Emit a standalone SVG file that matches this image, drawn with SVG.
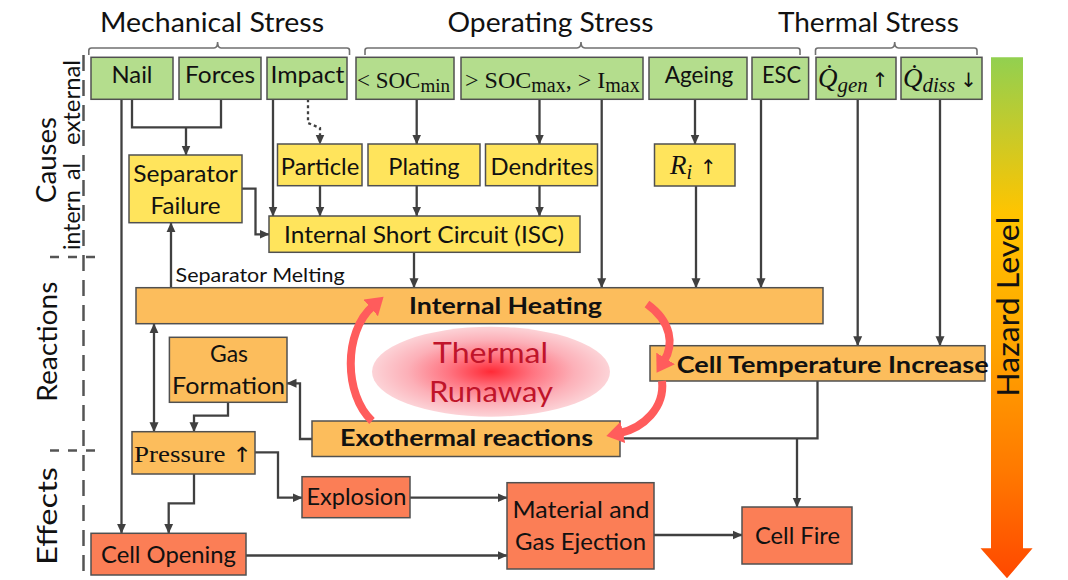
<svg xmlns="http://www.w3.org/2000/svg" width="1068" height="580" viewBox="0 0 1068 580">
<style>
.t{font-family:Lato,"Open Sans","Liberation Sans",sans-serif;font-size:23px;fill:#111;text-anchor:middle}
.b{font-weight:bold}
.s{font-family:"Liberation Serif","DejaVu Serif",serif;fill:#111}
.ar{font-family:"DejaVu Sans",sans-serif;fill:#111;font-style:normal}
.h{font-family:Lato,"Open Sans","Liberation Sans",sans-serif;font-size:27px;fill:#111;text-anchor:middle}
.g{fill:#B4DD8D;stroke:#505050;stroke-width:1.5}
.y{fill:#FFE45C;stroke:#505050;stroke-width:1.5}
.o{fill:#FCBD5C;stroke:#505050;stroke-width:1.5}
.r{fill:#FB7E56;stroke:#505050;stroke-width:1.5}
.c{fill:none;stroke:#404040;stroke-width:2.3}
.a{marker-end:url(#ah)}
.br{fill:none;stroke:#707070;stroke-width:1.6}
.dl{fill:none;stroke:#555;stroke-width:2.5}
.red{fill:none;stroke:#FF5C5C;stroke-width:8;marker-end:url(#rh)}
</style>
<defs>
<marker id="ah" viewBox="0 0 10 10" refX="9.5" refY="5" markerWidth="10" markerHeight="10" markerUnits="userSpaceOnUse" orient="auto-start-reverse"><path d="M0,0.5 L10,5 L0,9.5 z" fill="#404040"/></marker>
<marker id="rh" viewBox="0 0 20 22" refX="3" refY="11" markerWidth="20" markerHeight="22" markerUnits="userSpaceOnUse" orient="auto"><path d="M0,0 L17,11 L0,22 z" fill="#FF5C5C"/></marker>
<radialGradient id="tr" cx="50%" cy="50%" r="50%">
<stop offset="0" stop-color="#FF2A36"/>
<stop offset="0.35" stop-color="#FF7380"/>
<stop offset="0.7" stop-color="#FCB0B8"/>
<stop offset="1" stop-color="#FCD3D7"/>
</radialGradient>
<linearGradient id="hz" gradientUnits="userSpaceOnUse" x1="0" y1="57" x2="0" y2="578">
<stop offset="0" stop-color="#92D050"/>
<stop offset="0.3" stop-color="#FFC400"/>
<stop offset="0.55" stop-color="#FFA600"/>
<stop offset="0.8" stop-color="#FF7800"/>
<stop offset="1" stop-color="#FF4800"/>
</linearGradient>
</defs>
<rect width="1068" height="580" fill="#fff"/>

<g id="headings">
<text class="h" x="212" y="32" textLength="224" lengthAdjust="spacingAndGlyphs">Mechanical Stress</text>
<text class="h" x="550.5" y="32" textLength="206" lengthAdjust="spacingAndGlyphs">Operating Stress</text>
<text class="h" x="868.4" y="32" textLength="181" lengthAdjust="spacingAndGlyphs">Thermal Stress</text>
<path class="br" d="M88.8,55 V50.5 Q88.8,48 91.5,48 H214 Q217.6,48 217.6,42 Q217.6,48 221,48 H347 Q349.5,48 349.5,50.5 V55"/>
<path class="br" d="M365,55 V50.5 Q365,48 367.5,48 H577 Q581,48 581,42 Q581,48 585,48 H797.5 Q800,48 800,50.5 V55"/>
<path class="br" d="M815.5,55 V50.5 Q815.5,48 818,48 H891 Q894.7,48 894.7,42 Q894.7,48 898.5,48 H974.5 Q977,48 977,50.5 V55"/>
</g>

<g id="side-labels">
<text class="h" transform="translate(56,160) rotate(-90)" textLength="86" lengthAdjust="spacingAndGlyphs">Causes</text>
<text class="h" transform="translate(56.7,341.7) rotate(-90)" textLength="120" lengthAdjust="spacingAndGlyphs">Reactions</text>
<text class="h" transform="translate(56.7,516) rotate(-90)" textLength="98" lengthAdjust="spacingAndGlyphs">Effects</text>
<text class="t" style="text-anchor:start" transform="translate(80,145) rotate(-90)" textLength="85" lengthAdjust="spacingAndGlyphs">external</text>
<text class="t" style="text-anchor:start" transform="translate(80,250) rotate(-90)"><tspan x="0">intern</tspan> <tspan x="70">al</tspan></text>
<path class="dl" d="M83.5,55 V583" stroke-dasharray="16 9"/>
<path class="dl" d="M50,257 H100" stroke-dasharray="9 9"/>
<path class="dl" d="M50,450.5 H100" stroke-dasharray="9 9"/>
</g>

<g id="hazard">
<path d="M991,57.3 H1023 V548.3 H1032.6 L1007,578.3 L980.5,548.3 H991 Z" fill="url(#hz)"/>
<text class="t" transform="translate(1019,306.7) rotate(-90)" style="font-size:30px" textLength="180" lengthAdjust="spacingAndGlyphs">Hazard Level</text>
</g>

<g id="thermal-runaway">
<ellipse cx="491" cy="371.7" rx="119" ry="45" fill="url(#tr)"/>
<text class="t" x="490.5" y="363.3" style="font-size:29px;fill:#C0142A" textLength="115" lengthAdjust="spacingAndGlyphs">Thermal</text>
<text class="t" x="491" y="402" style="font-size:29px;fill:#C0142A" textLength="124" lengthAdjust="spacingAndGlyphs">Runaway</text>
</g>

<g id="connectors">
<path class="c" d="M132,99.3 V127.3 H221 V99.3"/>
<path class="c a" d="M186,127.3 V155"/>
<path class="c a" d="M121.5,99.3 V533.3"/>
<path class="c a" d="M273,99.3 V216"/>
<path class="c a" d="M308,99.3 V123 L320,128 V144" stroke="#707070" stroke-dasharray="3 3"/>
<path class="c a" d="M416.7,99.3 V144"/>
<path class="c a" d="M539.5,99.3 V144"/>
<path class="c a" d="M601.7,99.3 V287.7"/>
<path class="c a" d="M695,99.3 V144"/>
<path class="c a" d="M761,99.3 V287.7"/>
<path class="c a" d="M857.7,99.3 V345.7"/>
<path class="c a" d="M940,99.3 V345.7"/>
<path class="c a" d="M320,185.7 V216"/>
<path class="c a" d="M416.7,185.7 V216"/>
<path class="c a" d="M539.5,185.7 V216"/>
<path class="c a" d="M242,188.7 H255.5 V234.3 H269"/>
<path class="c a" d="M414,252.3 V287.7"/>
<path class="c a" d="M696,186 V287.7"/>
<path class="c a" d="M171,287.7 V222.7"/>
<path class="c a" d="M154,323.7 V431.7" marker-start="url(#ah)"/>
<path class="c a" d="M228,402.3 V415.7 H194 V431.7"/>
<path class="c a" d="M312,439 H300 V383.3 H287"/>
<path class="c a" d="M255,452.3 H278 V497.7 H302"/>
<path class="c a" d="M194,474 V503.3 H168.7 V533.3"/>
<path class="c a" d="M410,497.7 H507"/>
<path class="c a" d="M246,555.5 H507"/>
<path class="c a" d="M654,535 H742"/>
<path class="c" d="M620,438.3 H817.5 V381"/>
<path class="c a" d="M797,438.3 V507"/>
<text class="t" style="text-anchor:start;font-size:20px" x="175.6" y="281.7" textLength="169" lengthAdjust="spacingAndGlyphs">Separator Melting</text>
</g>

<g id="n-nail"><rect class="g" x="91" y="57.3" width="82" height="42"/><text class="t" x="132" y="83.3" textLength="41" lengthAdjust="spacingAndGlyphs">Nail</text></g>
<g id="n-forces"><rect class="g" x="179" y="57.3" width="82" height="42"/><text class="t" x="220" y="83.3" textLength="70" lengthAdjust="spacingAndGlyphs">Forces</text></g>
<g id="n-impact"><rect class="g" x="267" y="57.3" width="80" height="42"/><text class="t" x="307.5" y="83.3" textLength="74" lengthAdjust="spacingAndGlyphs">Impact</text></g>
<g id="n-socmin"><rect class="g" x="356" y="57.3" width="98" height="42"/><text class="s" x="357" y="88" style="font-size:23px">&lt; SOC<tspan style="font-size:19px" dy="4">min</tspan></text></g>
<g id="n-socmax"><rect class="g" x="461" y="57.3" width="182" height="42"/><text class="s" x="465" y="88" style="font-size:24px">&gt; SOC<tspan style="font-size:20px" dy="4">max</tspan><tspan dy="-4">, &gt; I</tspan><tspan style="font-size:20px" dy="4">max</tspan></text></g>
<g id="n-ageing"><rect class="g" x="649" y="57.3" width="98" height="42"/><text class="t" x="699" y="83.3" textLength="68.6" lengthAdjust="spacingAndGlyphs">Ageing</text></g>
<g id="n-esc"><rect class="g" x="752" y="57.3" width="56.6" height="42"/><text class="t" x="781.5" y="83.3" textLength="39" lengthAdjust="spacingAndGlyphs">ESC</text></g>
<g id="n-qgen"><rect class="g" x="816" y="57.3" width="80" height="42"/><text class="s" x="818" y="87" style="font-size:27px"><tspan font-style="italic">Q̇</tspan><tspan font-style="italic" style="font-size:21px" dy="5">gen</tspan><tspan class="ar" dy="-5" dx="4" style="font-size:20px">↑</tspan></text></g>
<g id="n-qdiss"><rect class="g" x="901" y="57.3" width="81" height="42"/><text class="s" x="903" y="87" style="font-size:27px"><tspan font-style="italic">Q̇</tspan><tspan font-style="italic" style="font-size:21px" dy="5">diss</tspan><tspan class="ar" dy="-5" dx="5" style="font-size:20px">↓</tspan></text></g>

<g id="n-sepfail"><rect class="y" x="129" y="155" width="113" height="67.7"/><text class="t" x="185.5" y="181.5" textLength="104.5" lengthAdjust="spacingAndGlyphs">Separator</text><text class="t" x="185.5" y="213.5" textLength="70" lengthAdjust="spacingAndGlyphs">Failure</text></g>
<g id="n-particle"><rect class="y" x="277.5" y="144" width="84.5" height="41.7"/><text class="t" x="320" y="175" textLength="78.5" lengthAdjust="spacingAndGlyphs">Particle</text></g>
<g id="n-plating"><rect class="y" x="368" y="144" width="112" height="41.7"/><text class="t" x="424" y="175" textLength="71.3" lengthAdjust="spacingAndGlyphs">Plating</text></g>
<g id="n-dendrites"><rect class="y" x="485.5" y="144" width="112" height="41.7"/><text class="t" x="542" y="175" textLength="103" lengthAdjust="spacingAndGlyphs">Dendrites</text></g>
<g id="n-ri"><rect class="y" x="654.5" y="144" width="80.5" height="42"/><text class="s" x="670" y="174" style="font-size:27px"><tspan font-style="italic">R</tspan><tspan font-style="italic" style="font-size:20px" dy="5">i</tspan><tspan class="ar" dy="-5" dx="8" style="font-size:20px">↑</tspan></text></g>
<g id="n-isc"><rect class="y" x="269" y="216" width="311" height="36.3"/><text class="t" x="424" y="243" textLength="280" lengthAdjust="spacingAndGlyphs">Internal Short Circuit (ISC)</text></g>

<g id="n-heating"><rect class="o" x="136" y="287.7" width="687" height="36"/><text class="t b" x="505.5" y="314" textLength="193" lengthAdjust="spacingAndGlyphs">Internal Heating</text></g>
<g id="n-gas"><rect class="o" x="169.4" y="337.3" width="117.6" height="65"/><text class="t" x="229" y="361.7" textLength="38" lengthAdjust="spacingAndGlyphs">Gas</text><text class="t" x="228.6" y="394" textLength="113" lengthAdjust="spacingAndGlyphs">Formation</text></g>
<g id="n-cti"><rect class="o" x="650" y="345.7" width="335" height="35.3"/><text class="t b" style="text-anchor:start" x="676.7" y="372.7" textLength="312" lengthAdjust="spacingAndGlyphs">Cell Temperature Increase</text></g>
<g id="n-exo"><rect class="o" x="312" y="421" width="308" height="35.5"/><text class="t b" x="466.5" y="445.7" textLength="253" lengthAdjust="spacingAndGlyphs">Exothermal reactions</text></g>
<g id="n-pressure"><rect class="o" x="132" y="431.7" width="123" height="42.3"/><text class="s" x="134" y="462" style="font-size:24px" textLength="118" lengthAdjust="spacingAndGlyphs">Pressure <tspan class="ar" style="font-size:21px">↑</tspan></text></g>

<g id="n-explosion"><rect class="r" x="302" y="476.7" width="108" height="41"/><text class="t" x="356.4" y="505" textLength="99.8" lengthAdjust="spacingAndGlyphs">Explosion</text></g>
<g id="n-opening"><rect class="r" x="91" y="533.3" width="155" height="41.7"/><text class="t" x="168.5" y="563.3" textLength="135" lengthAdjust="spacingAndGlyphs">Cell Opening</text></g>
<g id="n-ejection"><rect class="r" x="507" y="482.7" width="147" height="86.3"/><text class="t" x="581" y="517.7" textLength="137" lengthAdjust="spacingAndGlyphs">Material and</text><text class="t" x="580.5" y="550" textLength="131" lengthAdjust="spacingAndGlyphs">Gas Ejection</text></g>
<g id="n-fire"><rect class="r" x="742" y="507" width="110" height="57"/><text class="t" x="797.5" y="544" textLength="85" lengthAdjust="spacingAndGlyphs">Cell Fire</text></g>

<g id="runaway-loop">
<path class="red" d="M372,421 C344,395 343,332 373,306"/>
<path class="red" d="M647,304 C672,322 674,345 664,361"/>
<path class="red" d="M662,381 C665,408 643,428 620,433"/>
</g>
</svg>
